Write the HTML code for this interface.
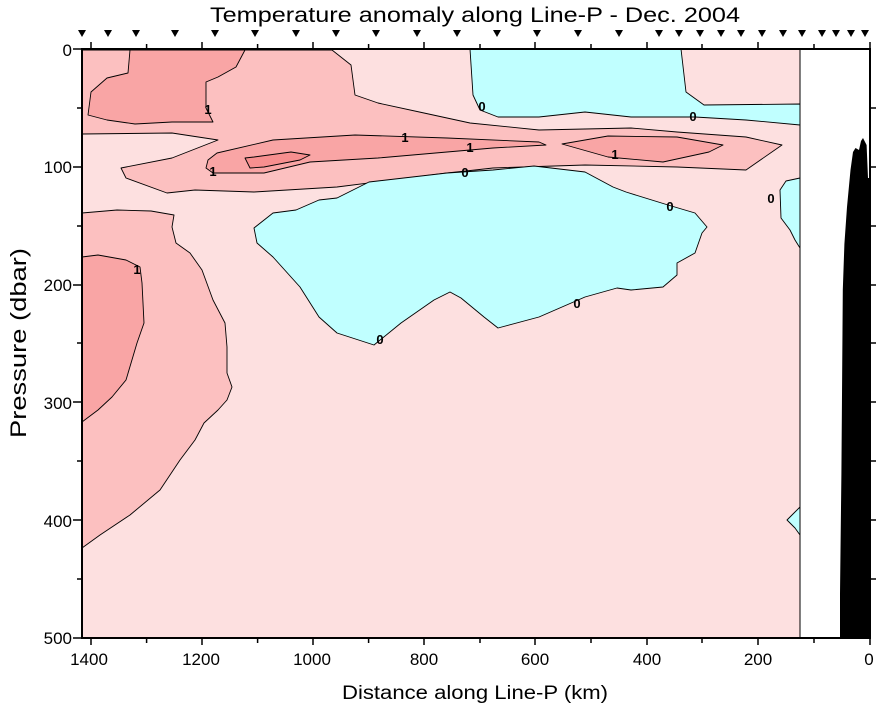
<!DOCTYPE html>
<html><head><meta charset="utf-8"><style>
html,body{margin:0;padding:0;background:#fff;}
svg{display:block;font-family:"Liberation Sans",Arial,sans-serif;}
</style></head><body>
<svg width="878" height="708" viewBox="0 0 878 708" xmlns="http://www.w3.org/2000/svg">
<rect x="0" y="0" width="878" height="708" fill="#fff"/>
<text x="210" y="22" font-size="21" textLength="530" lengthAdjust="spacingAndGlyphs">Temperature anomaly along Line-P - Dec. 2004</text>
<g fill="#000">
<path d="M78,30h8l-4,7z M104,30h8l-4,7z M132,30h8l-4,7z M171,30h8l-4,7z M211,30h8l-4,7z M251,30h8l-4,7z M292,30h8l-4,7z M332,30h8l-4,7z M372,30h8l-4,7z M413,30h8l-4,7z M453,30h8l-4,7z M493,30h8l-4,7z M533,30h8l-4,7z M574,30h8l-4,7z M615,30h8l-4,7z M655,30h8l-4,7z M675,30h8l-4,7z M696,30h8l-4,7z M717,30h8l-4,7z M737,30h8l-4,7z M758,30h8l-4,7z M779,30h8l-4,7z M798,30h8l-4,7z M818,30h8l-4,7z M832,30h8l-4,7z M847,30h8l-4,7z M861,30h8l-4,7z"/>
</g>
<g stroke="#000" stroke-width="0.9" stroke-linejoin="round">
<rect x="82" y="49" width="718" height="589" fill="#fde0e0"/>
<path fill="#fcc0c0" d="M82,50 L332,50 351,65 355,95 378,103 424,113 470,123 539,130 631,128 677,132 746,137 782,145 746,170 677,167 585,165 493,168 466,171 447,173 337,187 254,192 195,190 167,193 126,178 121,168 172,158 218,140 172,133 82,134Z"/>
<path fill="#f9a5a5" d="M130,50 L245,50 236,67 218,77 206,82 206,108 213,122 204,122 172,122 135,124 107,120 88,115 91,92 107,78 128,73Z"/>
<path fill="#f9a5a5" d="M208,160 217,153 273,140 355,135 447,138 539,142 546,145 493,148 447,152 378,158 310,162 264,173 213,173 206,168Z"/>
<path fill="#f78f8f" d="M245,158 254,157 291,152 310,155 300,160 264,167 250,168Z"/>
<path fill="#f9a5a5" d="M562,144 608,136 677,137 723,145 709,152 663,162 608,157Z"/>
<path fill="#c0ffff" d="M470,49 L681,49 686,92 704,105 800,104 800,125 746,120 695,117 631,117 585,112 539,117 498,117 480,110 473,95Z"/>
<path fill="#c0ffff" d="M254,228 273,213 296,210 319,200 337,198 369,182 447,173 493,170 534,166 585,172 613,187 626,192 668,205 695,213 707,227 702,233 695,253 677,263 677,275 663,287 631,290 617,288 585,297 539,317 498,328 484,317 461,298 450,292 434,300 401,323 374,345 337,333 319,317 300,287 273,257 257,243Z"/>
<path fill="#c0ffff" d="M800,178 786,181 780,190 781,218 790,230 795,240 800,248Z"/>
<path fill="#c0ffff" d="M800,507 792,515 787,520 795,528 800,535Z"/>
<path fill="#fcc0c0" d="M82,213 117,210 151,211 174,215 172,227 176,243 190,253 202,270 213,300 225,323 227,347 227,373 232,387 227,400 218,410 204,423 195,440 180,460 160,490 130,515 100,535 82,548Z"/>
<path fill="#f9a5a5" d="M82,257 98,255 126,260 140,267 142,283 144,323 137,343 126,380 112,397 98,410 82,422Z"/>
</g>
<rect x="800" y="49" width="70" height="589" fill="#fff"/>
<path fill="#000" d="M840,638 840,594 841.4,474 842.8,290 844.4,244 847,207 850.5,170 853,152 855.5,148 859,150 861,141 863,138 866.6,145 868,178 870,178 870,638Z"/>
<line x1="800" y1="49" x2="800" y2="638" stroke="#000" stroke-width="1"/>
<g stroke="#000" stroke-width="2" fill="none">
<path d="M82,49 H870 V638 H82 Z"/>
</g>
<g stroke="#000" stroke-width="1.5">
<path d="M91,638v7 M146.6,638v5 M202,638v7 M257.6,638v5 M313,638v7 M368.6,638v5 M424,638v7 M480,638v5 M535,638v7 M591,638v5 M647,638v7 M702,638v5 M758,638v7 M814,638v5 M870,638v7"/>
<path d="M91,49v-7 M146.6,49v-5 M202,49v-7 M257.6,49v-5 M313,49v-7 M368.6,49v-5 M424,49v-7 M480,49v-5 M535,49v-7 M591,49v-5 M647,49v-7 M702,49v-5 M758,49v-7 M814,49v-5 M870,49v-7"/>
<path d="M82,49h-9 M82,108h-5 M82,167h-9 M82,226h-5 M82,285h-9 M82,343h-5 M82,402h-9 M82,461h-5 M82,520h-9 M82,579h-5 M82,638h-9"/>
<path d="M870,108h6 M870,167h6 M870,226h6 M870,285h6 M870,343h6 M870,402h6 M870,461h6 M870,520h6 M870,579h6"/>
</g>
<g font-size="17" text-anchor="end">
<text x="72" y="56">0</text>
<text x="72" y="173">100</text>
<text x="72" y="291">200</text>
<text x="72" y="409">300</text>
<text x="72" y="527">400</text>
<text x="72" y="644">500</text>
</g>
<g font-size="17" text-anchor="middle">
<text x="89" y="665">1400</text>
<text x="201" y="665">1200</text>
<text x="312" y="665">1000</text>
<text x="424" y="665">800</text>
<text x="535" y="665">600</text>
<text x="647" y="665">400</text>
<text x="758" y="665">200</text>
<text x="869" y="665">0</text>
</g>
<text x="342" y="699" font-size="19" textLength="266" lengthAdjust="spacingAndGlyphs">Distance along Line-P (km)</text>
<text transform="translate(26,438) rotate(-90)" font-size="22" textLength="190" lengthAdjust="spacingAndGlyphs">Pressure (dbar)</text>
<g font-size="13" font-weight="bold" text-anchor="middle">
<text x="208" y="114">1</text>
<text x="482" y="111">0</text>
<text x="693" y="121">0</text>
<text x="405" y="142">1</text>
<text x="470" y="152">1</text>
<text x="615" y="159">1</text>
<text x="213" y="176">1</text>
<text x="465" y="177">0</text>
<text x="670" y="211">0</text>
<text x="771" y="203">0</text>
<text x="137" y="274">1</text>
<text x="577" y="308">0</text>
<text x="380" y="344">0</text>
</g>
</svg>
</body></html>
